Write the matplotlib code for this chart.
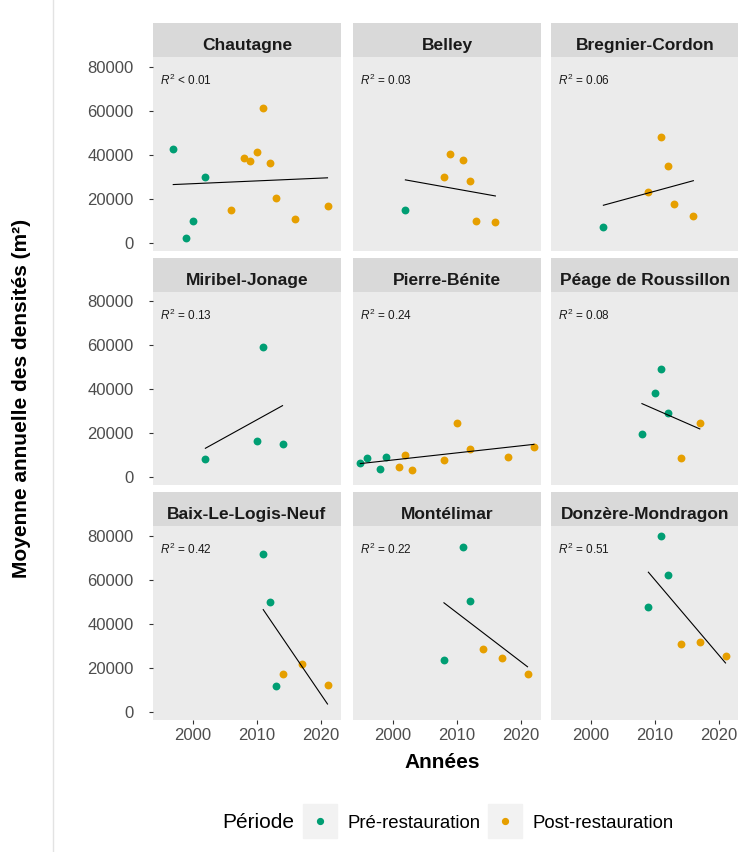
import numpy as np
import matplotlib.pyplot as plt
from matplotlib.lines import Line2D
from matplotlib.legend_handler import HandlerTuple

# === DATA ===
sites = ["Chautagne", "Belley", "Bregnier-Cordon",
         "Miribel-Jonage", "Pierre-Bénite", "Péage de Roussillon",
         "Baix-Le-Logis-Neuf", "Montélimar", "Donzère-Mondragon"]
r2_labels = ["< 0.01", "= 0.03", "= 0.06",
             "= 0.13", "= 0.24", "= 0.08",
             "= 0.42", "= 0.22", "= 0.51"]

pre_years = [[1997, 1999, 2000, 2002], [2002], [2002],
             [2002, 2010, 2011, 2014], [1995, 1996, 1998, 1999], [2008, 2010, 2011, 2012],
             [2011, 2012, 2013], [2008, 2011, 2012], [2009, 2011, 2012]]
pre_values = [[42500, 2200, 10000, 30000], [14900], [7300],
              [8400, 16500, 59400, 15100], [6600, 8700, 3800, 9100], [19800, 38100, 49400, 29300],
              [71700, 49700, 11500], [23600, 75000, 50500], [47700, 79700, 62100]]

post_years = [[2006, 2008, 2009, 2010, 2011, 2012, 2013, 2016, 2021],
              [2008, 2009, 2011, 2012, 2013, 2016],
              [2009, 2011, 2012, 2013, 2016],
              [],
              [2001, 2002, 2003, 2008, 2010, 2012, 2018, 2022],
              [2014, 2017],
              [2014, 2017, 2021], [2014, 2017, 2021], [2014, 2017, 2021]]
post_values = [[14900, 38400, 37300, 41400, 61400, 36100, 20200, 10600, 16800],
               [29700, 40200, 37600, 28200, 10000, 9500],
               [22900, 48000, 34900, 17600, 12100],
               [],
               [4600, 10200, 3100, 7800, 24700, 13000, 9100, 13700],
               [8700, 24700],
               [17100, 21700, 12300], [28300, 24200, 17100], [30800, 31800, 25200]]

periods = ["Pré-restauration", "Post-restauration"]
colors = ["#009E73", "#E69F00"]

# === STYLE ===
plt.rcParams['font.family'] = ['Liberation Sans', 'DejaVu Sans']
plt.rcParams['mathtext.fontset'] = 'custom'
plt.rcParams['mathtext.rm'] = 'Liberation Sans'
plt.rcParams['mathtext.it'] = 'Liberation Sans:italic'

W, H = 738, 852
fig = plt.figure(figsize=(W / 100, H / 100), dpi=100)


def px_box(x0, y0, x1, y1):
    return [x0 / W, 1 - y1 / H, (x1 - x0) / W, (y1 - y0) / H]


col_x = [153, 353, 551]
row_top = [23, 257.5, 492]
panel_w, strip_h, panel_h = 188, 34, 193.5

for i, site in enumerate(sites):
    r, c = divmod(i, 3)
    x0, y0 = col_x[c], row_top[r]

    # strip
    sax = fig.add_axes(px_box(x0, y0, x0 + panel_w, y0 + strip_h))
    sax.set_facecolor("#D9D9D9")
    sax.set_xticks([])
    sax.set_yticks([])
    for s in sax.spines.values():
        s.set_visible(False)
    sax.text(0.5, 0.2, site, ha="center", va="baseline", fontsize=12.5,
             fontweight="bold", color="#1A1A1A", transform=sax.transAxes)

    # panel
    ax = fig.add_axes(px_box(x0, y0 + strip_h, x0 + panel_w, y0 + strip_h + panel_h))
    ax.set_facecolor("#EBEBEB")
    for s in ax.spines.values():
        s.set_visible(False)

    ax.scatter(pre_years[i], pre_values[i], s=32, color=colors[0], zorder=2, linewidths=0)
    ax.scatter(post_years[i], post_values[i], s=32, color=colors[1], zorder=2, linewidths=0)

    # linear fit over all points of the site
    xs = np.array(pre_years[i] + post_years[i], dtype=float)
    ys = np.array(pre_values[i] + post_values[i], dtype=float)
    slope, inter = np.polyfit(xs, ys, 1)
    xl = np.array([xs.min(), xs.max()])
    ax.plot(xl, slope * xl + inter, color="black", lw=0.8, zorder=3)

    ax.text(1995, 71500, r"$R^2$ " + r2_labels[i], fontsize=8.5, ha="left",
            va="baseline", color="#1A1A1A")

    ax.set_xlim(1993.85, 2023.1)
    ax.set_ylim(-3545, 84400)
    ax.set_xticks([2000, 2010, 2020])
    ax.set_yticks([0, 20000, 40000, 60000, 80000])
    ax.tick_params(length=3, width=0.8, color="#333333", labelsize=12,
                   labelcolor="#4D4D4D")
    ax.tick_params(axis="x", pad=3)
    ax.tick_params(axis="y", pad=11)
    if c != 0:
        ax.tick_params(axis="y", left=False, labelleft=False)
    if r != 2:
        ax.tick_params(axis="x", bottom=False, labelbottom=False)

# axis titles
fig.text(442 / W, 1 - 762 / H, "Années", ha="center", va="center",
         fontsize=15, fontweight="bold")
fig.text(22 / W, 1 - 398 / H, "Moyenne annuelle des densités (m²)", ha="center",
         va="center", rotation=90, fontsize=15, fontweight="bold")

# legend: grey key square with the coloured dot centred on it
fig.text(222 / W, 1 - 823 / H, "Période", ha="left", va="center", fontsize=15)
handles = [(Line2D([], [], marker="s", ls="", color="#F2F2F2", markersize=24.5),
            Line2D([], [], marker="o", ls="", color=col, markersize=4.2))
           for col in colors]
fig.legend(handles, periods, loc="center left", bbox_to_anchor=(290 / W, 1 - 823 / H),
           handler_map={tuple: HandlerTuple(ndivide=1)}, frameon=False,
           fontsize=13.4, handlelength=1.8, handletextpad=0.6,
           columnspacing=0.4, ncol=2, borderpad=0.2)

# thin frame line at the left of the picture
fig.add_artist(Line2D([53 / W, 53 / W], [0, 1], color="#E3E3E3", lw=1))

fig.savefig("out.png", dpi=100)
